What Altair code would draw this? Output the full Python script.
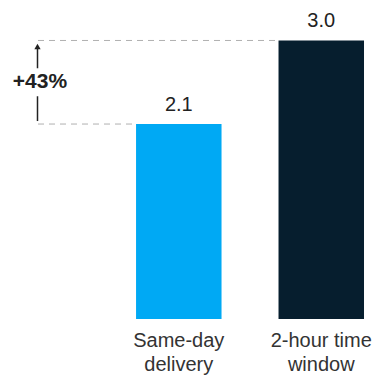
import altair as alt
import pandas as pd

categories = ["Same-day delivery", "2-hour time window"]
cat_lines = [["Same-day", "delivery"], ["2-hour time", "window"]]
values = [2.1, 3.0]
colors = ["#00a9f4", "#061e2e"]
value_labels = ["2.1", "3.0"]

rows = []
for c, v, col, lab, lines in zip(categories, values, colors, value_labels, cat_lines):
    rows.append({"cat": c, "val": v, "color": col, "label": lab, "l1": lines[0], "l2": lines[1]})
df = pd.DataFrame(rows)
low, high = values
pct = round((high / low - 1) * 100)
mid = (low + high) / 2
ann = pd.DataFrame({"low": [low], "high": [high], "mid": [mid], "txt": [f"+{pct}%"]})

FONT = "Liberation Sans"
x_scale = alt.Scale(paddingInner=0.4, paddingOuter=0.509, align=0.938)
x_enc = alt.X("cat:N", sort=categories, scale=x_scale, axis=None)
y_scale = alt.Scale(domain=[0, 3.436], nice=False, zero=True)
y_enc = alt.Y("val:Q", scale=y_scale, axis=None)

bars = alt.Chart(df).mark_bar().encode(
    x=x_enc, y=y_enc,
    color=alt.Color("color:N", scale=None),
)
labels = alt.Chart(df).mark_text(font=FONT, fontSize=20, color="#222222", dy=-19).encode(
    x=x_enc, y=y_enc, text="label:N"
)
axl1 = alt.Chart(df).mark_text(font=FONT, fontSize=20, color="#333333").encode(
    x=x_enc, y=alt.value(341), text="l1:N"
)
axl2 = alt.Chart(df).mark_text(font=FONT, fontSize=20, color="#333333").encode(
    x=x_enc, y=alt.value(365), text="l2:N"
)

dash_hi = alt.Chart(ann).mark_rule(color="#b0b0b0", strokeDash=[6, 5], strokeWidth=1).encode(
    x=alt.value(38), x2=alt.value(277), y=alt.Y("high:Q", scale=y_scale, axis=None)
)
dash_lo = alt.Chart(ann).mark_rule(color="#b0b0b0", strokeDash=[6, 5], strokeWidth=1).encode(
    x=alt.value(38), x2=alt.value(136), y=alt.Y("low:Q", scale=y_scale, axis=None)
)
arrow_up = alt.Chart(ann).mark_rule(color="#222222", strokeWidth=1.5, yOffset=8, y2Offset=-14).encode(
    x=alt.value(37.5), y=alt.Y("high:Q", scale=y_scale, axis=None), y2="mid:Q"
)
arrow_lo = alt.Chart(ann).mark_rule(color="#222222", strokeWidth=1.5, yOffset=14, y2Offset=-3).encode(
    x=alt.value(37.5), y=alt.Y("mid:Q", scale=y_scale, axis=None), y2="low:Q"
)
head = alt.Chart(ann).mark_point(shape="triangle-up", filled=True, color="#222222", size=40,
                                  opacity=1, yOffset=6).encode(
    x=alt.value(37.5), y=alt.Y("high:Q", scale=y_scale, axis=None)
)
pct_txt = alt.Chart(ann).mark_text(font=FONT, fontSize=21, fontWeight="bold", color="#222222").encode(
    x=alt.value(40), y=alt.Y("mid:Q", scale=y_scale, axis=None), text="txt:N"
)

chart = alt.layer(dash_hi, dash_lo, bars, labels, axl1, axl2, arrow_up, arrow_lo, head, pct_txt).properties(
    width=373, height=319,
    autosize=alt.AutoSizeParams(type="none"),
    padding={"left": 0, "top": 0, "right": 0, "bottom": 57},
).configure_view(stroke=None)

chart.save("out.html", embed_options={"renderer": "svg", "actions": False})
